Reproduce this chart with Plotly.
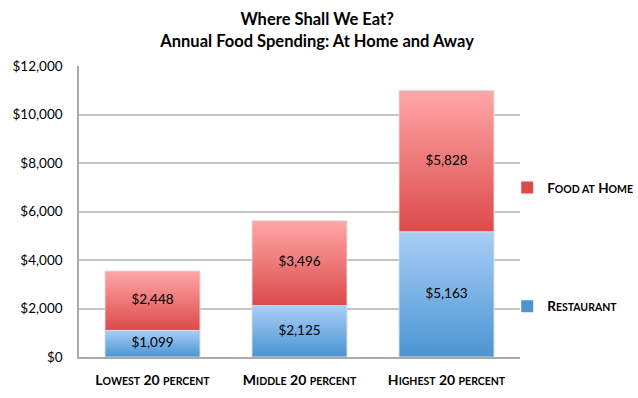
import plotly.graph_objects as go

categories = ["Lowest 20 percent", "Middle 20 percent", "Highest 20 percent"]
category_labels = [
    "<b>L<span style='font-size:10.5px'>OWEST</span> 20 <span style='font-size:10.5px'>PERCENT</span></b>",
    "<b>M<span style='font-size:10.5px'>IDDLE</span> 20 <span style='font-size:10.5px'>PERCENT</span></b>",
    "<b>H<span style='font-size:10.5px'>IGHEST</span> 20 <span style='font-size:10.5px'>PERCENT</span></b>",
]
restaurant = [1099, 2125, 5163]
food_at_home = [2448, 3496, 5828]
series_names = ["Restaurant", "Food at Home"]
legend_labels = [
    "<b>R<span style='font-size:10.5px'>ESTAURANT</span></b>",
    "<b>F<span style='font-size:10.5px'>OOD AT</span> H<span style='font-size:10.5px'>OME</span></b>",
]
y_tick_values = [0, 2000, 4000, 6000, 8000, 10000, 12000]
y_tick_labels = ["$0", "$2,000", "$4,000", "$6,000", "$8,000", "$10,000", "$12,000"]

FONT = "Lato, 'Open Sans', sans-serif"
BAR_W = 0.646
grad = {
    "Restaurant": ("#4A95D3", "#A9CEF6"),
    "Food at Home": ("#DC4A4A", "#FFA7A7"),
}

fig = go.Figure()
series_values = [restaurant, food_at_home]
bases = [[0, 0, 0], restaurant]

for name, vals, base in zip(series_names, series_values, bases):
    dark, light = grad[name]
    for i, (v, b) in enumerate(zip(vals, base)):
        x0, x1 = i - BAR_W / 2, i + BAR_W / 2
        fig.add_trace(go.Scatter(
            x=[x0, x1, x1, x0, x0],
            y=[b, b, b + v, b + v, b],
            mode="lines", fill="toself",
            fillgradient=dict(type="vertical", colorscale=[[0, dark], [1, light]]),
            line=dict(width=1, color="rgba(220,220,220,0.9)"),
            showlegend=False, hoverinfo="skip",
        ))
    fig.add_trace(go.Scatter(
        x=list(range(len(categories))),
        y=[b + v / 2 for v, b in zip(vals, base)],
        mode="text",
        text=[f"${v:,}" for v in vals],
        textfont=dict(family=FONT, size=13.5, color="#000000"),
        showlegend=False,
        hovertemplate=name + ": %{text}<extra></extra>",
    ))

# legend entries (Food at Home on top)
for name, label, grp in [("Food at Home", legend_labels[1], "g1"), ("Restaurant", legend_labels[0], "g2")]:
    dark, light = grad[name]
    fig.add_trace(go.Bar(
        x=[None], y=[None], name=label,
        marker=dict(color=dark, line=dict(width=0)),
        legendgroup=grp, showlegend=True,
    ))

fig.update_layout(
    width=638, height=398,
    margin=dict(l=79, r=118, t=66, b=41, autoexpand=False),
    paper_bgcolor="white", plot_bgcolor="white",
    font=dict(family=FONT, size=13, color="#000000"),
    title=dict(
        text="<b>Where Shall We Eat?<br>Annual Food Spending: At Home and Away</b>",
        x=0.497, xanchor="center", y=0.937, yanchor="middle",
        font=dict(family=FONT, size=16.5, color="#000000"),
    ),
    showlegend=True,
    legend=dict(
        xref="container", yref="container",
        x=0.795, xanchor="left", y=0.567, yanchor="top",
        traceorder="grouped", tracegroupgap=98,
        font=dict(family=FONT, size=13.5, color="#000000"),
        itemwidth=30, bgcolor="rgba(0,0,0,0)",
    ),
    xaxis=dict(
        range=[-0.5, 2.5], tickvals=[0, 1, 2], ticktext=category_labels,
        showgrid=False, zeroline=False, showline=True, linecolor="#ABABAB", linewidth=1.5,
        ticks="", ticklabelstandoff=9, tickfont=dict(family=FONT, size=14), automargin=False,
    ),
    yaxis=dict(
        range=[0, 12000], tickvals=y_tick_values, ticktext=y_tick_labels,
        showgrid=True, gridcolor="#C4C4C4", gridwidth=1.5,
        zeroline=False, showline=True, linecolor="#ABABAB", linewidth=1.5,
        ticks="", ticklabelstandoff=12, tickfont=dict(family=FONT, size=13.5), automargin=False,
    ),
    hovermode="closest",
)

fig.write_html("out.html", config={"displayModeBar": False},
               post_script="document.body.style.margin='0';")
